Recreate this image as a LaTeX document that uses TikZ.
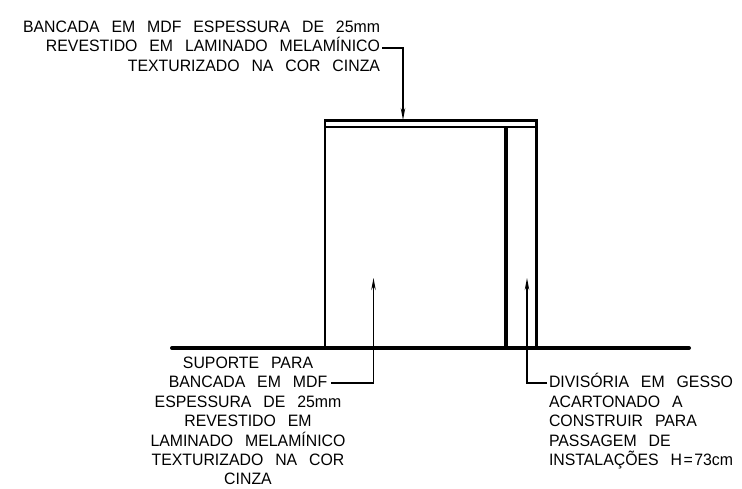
\documentclass[tikz,border=0pt]{standalone}
\usepackage{fontspec}
\setmainfont{Liberation Sans}[FakeStretch=0.96,WordSpace=2.7]
\usetikzlibrary{arrows.meta}
\tikzset{
  x=1pt,y=-1pt,
  wall/.style={draw=black,line width=#1},
  floorline/.style={draw=black,line width=4pt,line cap=round},
  leader/.style={draw=black,line width=1.2pt,-{Stealth[length=12pt,width=4.5pt]}},
  lbl/.style={inner sep=0pt,outer sep=0pt,text=black,font=\fontsize{16.5}{19.4}\selectfont}
}
\begin{document}
\begin{tikzpicture}
\useasboundingbox (0,0) rectangle (742,488);
% floor and bench
\coordinate (fl) at (172,348);
\coordinate (fr) at (689,348);
\draw[floorline] (fl) -- (fr);
\coordinate (tl) at (325,120.5);
\coordinate (tr) at (536.5,127);
\draw[wall=2.5pt] (tl) rectangle (tr);
\coordinate (legA) at (325,348);
\coordinate (legB) at (506,127);
\coordinate (legBb) at (506,348);
\coordinate (legC) at (536.5,348);
\draw[wall=2.5pt] (tl) -- (legA);
\draw[wall=4pt] (legB) -- (legBb);
\draw[wall=3.5pt] (536.5,120.5) -- (legC);
% labels
\node[lbl,align=right,anchor=north east] (top) at (380,21) {BANCADA EM MDF ESPESSURA DE 25mm\\REVESTIDO EM LAMINADO MELAMÍNICO\\TEXTURIZADO NA COR CINZA};
\node[lbl,align=center,anchor=north] (sup) at (248,357) {SUPORTE PARA\\BANCADA EM MDF\\ESPESSURA DE 25mm\\REVESTIDO EM\\LAMINADO MELAMÍNICO\\TEXTURIZADO NA COR\\CINZA};
\node[lbl,align=left,anchor=north west] (div) at (549,373.5) {DIVISÓRIA EM GESSO\\ACARTONADO A\\CONSTRUIR PARA\\PASSAGEM DE\\INSTALAÇÕES H\kern1.5pt=\kern1.5pt73cm};
% leaders
\coordinate (a1) at (382,48);
\coordinate (a2) at (403,48);
\coordinate (a3) at (403,120);
\draw[leader] (a1) -- (a2) -- (a3);
\coordinate (b1) at (331,383);
\coordinate (b2) at (373.5,383);
\coordinate (b3) at (373.5,278);
\draw[leader] (b1) -- (b2) -- (b3);
\coordinate (c1) at (547,383);
\coordinate (c2) at (527,383);
\coordinate (c3) at (527,278);
\draw[leader] (c1) -- (c2) -- (c3);
\end{tikzpicture}
\end{document}
